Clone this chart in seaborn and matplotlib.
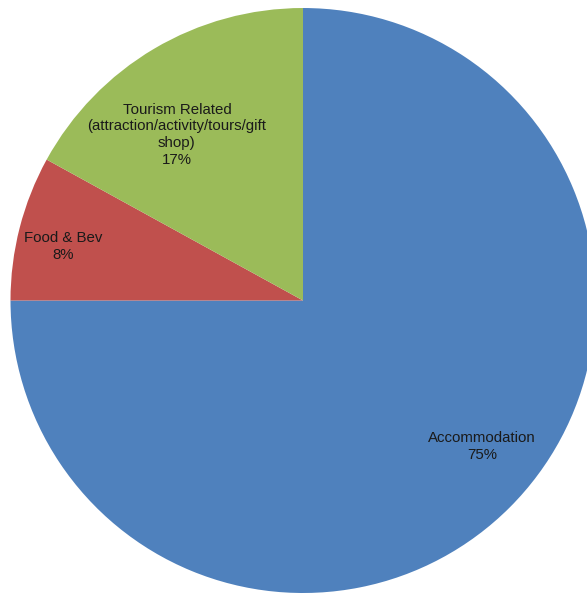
import matplotlib
matplotlib.use("Agg")
import matplotlib.pyplot as plt
import seaborn as sns

# Share of spending by category (percent)
categories = ["Accommodation", "Food & Bev",
              "Tourism Related\n(attraction/activity/tours/gift\nshop)"]
shares = [75, 8, 17]
colors = ["#4F81BD", "#C0504D", "#9BBB59"]

sns.set_style("white")
plt.rcParams["font.family"] = ["Liberation Sans", "DejaVu Sans"]

fig = plt.figure(figsize=(5.87, 5.94), dpi=100, facecolor="white")
ax = fig.add_axes([0, 0, 1, 1])
ax.set_facecolor("white")

wedges, _ = ax.pie(shares, colors=colors, startangle=90, counterclock=False,
                   radius=1.0, wedgeprops=dict(linewidth=0))

# label anchor points (in pie-radius units)
label_pos = [(0.612, -0.499), (-0.821, 0.186), (-0.431, 0.566)]
for name, val, (x, y) in zip(categories, shares, label_pos):
    ax.text(x, y, f"{name}\n{val}%", ha="center", va="center",
            fontsize=10.8, color="#1a1a1a", linespacing=1.27)

ax.set_xlim(-1.0359, 0.971)
ax.set_ylim(-1.0034, 1.0274)
ax.set_aspect("equal")
ax.axis("off")

fig.savefig("out.png", dpi=100, facecolor="white")
